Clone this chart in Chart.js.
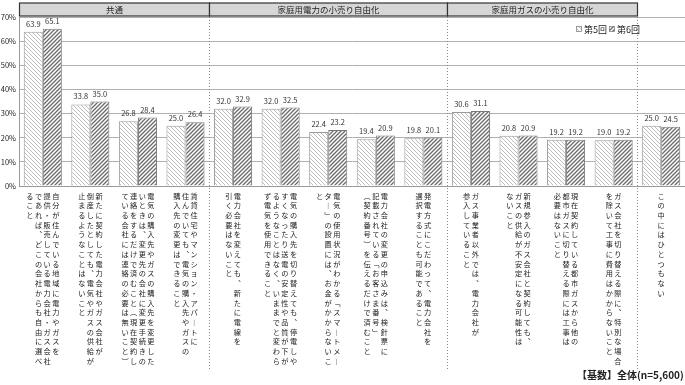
<!DOCTYPE html>
<html>
<head>
<meta charset="utf-8">
<script src="https://cdn.jsdelivr.net/npm/chart.js@4.4.0/dist/chart.umd.min.js"></script>
<style>
  html, body { margin: 0; padding: 0; background: #fff; }
  #wrap { width: 685px; height: 385px; }
</style>
</head>
<body>
<div id="wrap"><canvas id="plotOne" width="685" height="385"></canvas></div>
<script>
// categories: each label is a list of vertical columns (right to left)
var categories = [
    ['自分が住んでいる地域に電力やガスを', '提供・販売している電力会社・ガス会社', 'であれば、どこの会社からも自由に選べ', 'ること'],
    ['新たに契約した電力会社やガス会社が', '倒産したとしても、電気やガスの供給が', '止まるようなことはないこと'],
    ['電気の購入先やガスの購入先を変更した', 'いときは、変更先の会社に変更手続きの', '連絡をするだけで済むこと（現在契約し', 'ている会社には連絡の必要は無いこと）'],
    ['賃貸住宅やマンション・アパートに', '住んでいても、電気の購入先やガスの', '購入先の変更はできること'],
    ['電力会社を変えても、新たに電線を', '引く必要はないこと'],
    ['電気の購入先を切り替えても、停電しや', 'すくなったり送電の安定性や品質が下が', 'るようなことはなく、いままでと変わら', 'ず電気を使用できること'],
    ['電気の使用状況がわかる「スマートメー', 'ター」の設置には、お金がかからないこ', 'と'],
    ['電力会社の変更の申込みは、検針票に', '記載されている「お客さま番号」', '（契約番号）を伝えるだけで済むこと'],
    ['発電方式にこだわって、電力会社を', '選択することも可能であること'],
    ['ガス事業者以外では、電力会社が', '参入していること'],
    ['新規参入のガス会社と契約しても、', 'ガスの供給が不安定になる可能性は', 'ないこと'],
    ['現在契約している都市ガスから他の', '都市ガスに切り替える際には工事は', '必要はないこと'],
    ['ガス会社を切り替える際に、特別な場合', 'を除いて工事に費用はかからないこと'],
    ['この中にはひとつもない']
];

var seriesNames = ['第5回', '第6回'];
var round5 = [63.9, 33.8, 26.8, 25.0, 32.0, 32.0, 22.4, 19.4, 19.8, 30.6, 20.8, 19.2, 19.0, 25.0];
var round6 = [65.1, 35.0, 28.4, 26.4, 32.9, 32.5, 23.2, 20.9, 20.1, 31.1, 20.9, 19.2, 19.2, 24.5];

var groupNames = ['共通', '家庭用電力の小売り自由化', '家庭用ガスの小売り自由化'];
var groupFirst = [0, 4, 9];
var groupLast = [3, 8, 12];

var yTicks = [0, 10, 20, 30, 40, 50, 60, 70];
var baseNote = '【基数】全体(n=5,600)';

var FONT = '"Noto Sans CJK JP", "Noto Sans", sans-serif';

// vertical writing: columns -> rows of characters
var vert = { 'ー': '︱', '、': '︑', '「': '﹁', '」': '﹂', '（': '︵', '）': '︶' };
function toRows(cols) {
    var chars = cols.map(function (c) { return Array.from(c).map(function (ch) { return vert[ch] || ch; }); });
    var n = Math.max.apply(null, chars.map(function (c) { return c.length; }));
    var rows = [];
    for (var i = 0; i < n; i++) {
        var parts = [];
        for (var j = chars.length - 1; j >= 0; j--) {
            parts.push(chars[j][i] || '　');
        }
        rows.push(parts.join('\u2009'));
    }
    return rows;
}
var tickLabels = categories.map(toRows);

function hatch(bg, line, width, dir) {
    var c = document.createElement('canvas');
    c.width = 4; c.height = 4;
    var g = c.getContext('2d');
    g.fillStyle = bg;
    g.fillRect(0, 0, 4, 4);
    g.strokeStyle = line;
    g.lineWidth = width;
    g.beginPath();
    if (dir > 0) {
        g.moveTo(-1, 5); g.lineTo(5, -1);
        g.moveTo(-1, 1); g.lineTo(1, -1);
        g.moveTo(3, 5); g.lineTo(5, 3);
    } else {
        g.moveTo(-1, -1); g.lineTo(5, 5);
        g.moveTo(-1, 3); g.lineTo(1, 5);
        g.moveTo(3, -1); g.lineTo(5, 1);
    }
    g.stroke();
    return g.createPattern(c, 'repeat');
}
var fill5 = hatch('#ffffff', '#b5b5b5', 0.9, -1);
var fill6 = hatch('#ffffff', '#6a6a6a', 1.3, 1);

function boundary(x, i) {
    return (x.getPixelForValue(i) + x.getPixelForValue(i + 1)) / 2;
}

var extras = {
    id: 'extras',
    beforeDatasetsDraw: function (chart) {
        var ctx = chart.ctx, x = chart.scales.x, a = chart.chartArea;
        ctx.save();
        ctx.strokeStyle = '#8a8a8a';
        ctx.lineWidth = 1;
        ctx.setLineDash([1, 2]);
        [3, 8, 12].forEach(function (i) {
            var px = Math.round(boundary(x, i)) + 0.5;
            ctx.beginPath();
            ctx.moveTo(px, a.top);
            ctx.lineTo(px, 370);
            ctx.stroke();
        });
        ctx.restore();
    },
    afterDatasetsDraw: function (chart) {
        var ctx = chart.ctx, x = chart.scales.x, a = chart.chartArea;
        ctx.save();
        // value labels
        ctx.font = '7.5px ' + FONT;
        ctx.fillStyle = '#333';
        ctx.textAlign = 'center';
        ctx.textBaseline = 'bottom';
        chart.data.datasets.forEach(function (ds, di) {
            chart.getDatasetMeta(di).data.forEach(function (bar, i) {
                ctx.fillText(ds.data[i].toFixed(1), bar.x, bar.y - 4);
            });
        });
        // group header boxes
        ctx.font = '8.5px ' + FONT;
        ctx.textBaseline = 'middle';
        groupNames.forEach(function (name, gi) {
            var l = groupFirst[gi] === 0 ? a.left : boundary(x, groupFirst[gi] - 1);
            var r = boundary(x, groupLast[gi]);
            l = Math.round(l) + 0.5; r = Math.round(r) + 0.5;
            var t = a.top - 14, h = 13;
            ctx.fillStyle = '#d6d6d6';
            ctx.fillRect(l, t, r - l, h);
            ctx.strokeStyle = '#333';
            ctx.lineWidth = 1.2;
            ctx.strokeRect(l, t, r - l, h);
            ctx.fillStyle = '#222';
            ctx.fillText(name, (l + r) / 2, t + h / 2 + 0.5);
        });
        // legend
        var lx = 576, ly = a.top + 12;
        ctx.textAlign = 'left';
        ctx.font = '9px ' + FONT;
        [fill5, fill6].forEach(function (f, k) {
            var bx = lx + k * 33;
            ctx.fillStyle = f;
            ctx.fillRect(bx, ly - 3, 6, 6);
            ctx.strokeStyle = '#888';
            ctx.lineWidth = 0.8;
            ctx.strokeRect(bx + 0.5, ly - 2.5, 5, 5);
            ctx.fillStyle = '#222';
            ctx.fillText(seriesNames[k], bx + 8, ly + 0.5);
        });
        // base note
        ctx.font = 'bold 10px ' + FONT;
        ctx.textBaseline = 'middle';
        ctx.fillText(baseNote, 577, 375);
        ctx.restore();
    }
};

new Chart(document.getElementById('plotOne'), {
    type: 'bar',
    data: {
        labels: tickLabels,
        datasets: [
            {
                label: seriesNames[0],
                data: round5,
                backgroundColor: fill5,
                borderColor: '#9a9a9a',
                borderWidth: 1
            },
            {
                label: seriesNames[1],
                data: round6,
                backgroundColor: fill6,
                borderColor: '#777',
                borderWidth: 1
            }
        ]
    },
    options: {
        responsive: false,
        animation: false,
        devicePixelRatio: 1,
        layout: { padding: { top: 17, right: 0, bottom: 0, left: 0 } },
        plugins: {
            legend: { display: false },
            tooltip: { enabled: false }
        },
        datasets: {
            bar: { categoryPercentage: 0.8, barPercentage: 1.0 }
        },
        scales: {
            x: {
                afterFit: function (s) { s.height = 199; },
                grid: { display: false, drawTicks: false },
                border: { color: '#999' },
                ticks: {
                    autoSkip: false,
                    maxRotation: 0,
                    minRotation: 0,
                    padding: 5,
                    color: '#222',
                    font: { family: FONT, size: 7.2, lineHeight: 1.35 }
                }
            },
            y: {
                min: 0,
                max: 70,
                afterBuildTicks: function (s) { s.ticks = yTicks.map(function (v) { return { value: v }; }); },
                afterFit: function (s) { s.width = 19; },
                grid: { color: '#b0b0b0', drawTicks: false },
                border: { color: '#999' },
                ticks: {
                    padding: 3,
                    color: '#222',
                    font: { family: FONT, size: 7.5 },
                    callback: function (v) { return v + '%'; }
                }
            }
        }
    },
    plugins: [extras]
});
</script>
</body>
</html>
